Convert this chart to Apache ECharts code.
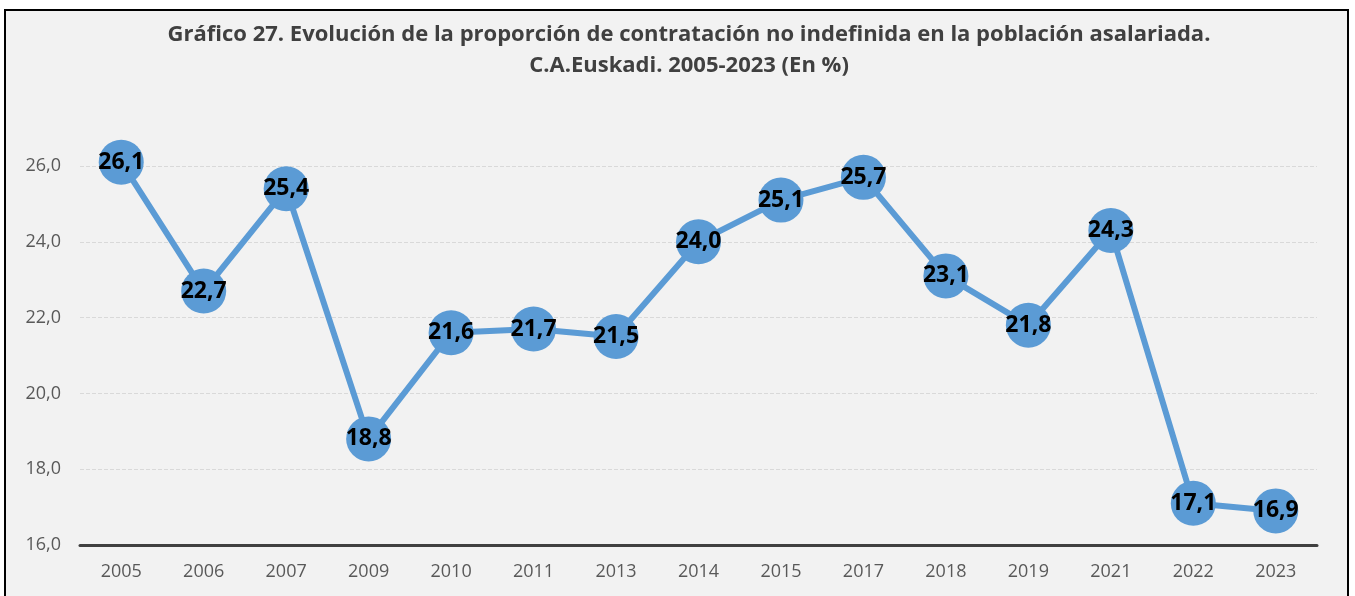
<!DOCTYPE html>
<html>
<head>
<meta charset="utf-8">
<script src="https://cdn.jsdelivr.net/npm/echarts@6/dist/echarts.min.js"></script>
<style>
  html, body { margin: 0; padding: 0; background: #ffffff; }
  #chart-container { width: 1355px; height: 596px; }
</style>
</head>
<body>
<div id="chart-container"></div>
<script>
// datos del gráfico
const years = ['2005', '2006', '2007', '2009', '2010', '2011', '2013', '2014', '2015', '2017', '2018', '2019', '2021', '2022', '2023'];
const values = [26.1, 22.7, 25.4, 18.8, 21.6, 21.7, 21.5, 24.0, 25.1, 25.7, 23.1, 21.8, 24.3, 17.1, 16.9];
const titleLines = [
  'Gráfico 27. Evolución de la proporción de contratación no indefinida en la población asalariada.',
  'C.A.Euskadi. 2005-2023 (En %)'
];

const fmt = v => v.toFixed(1).replace('.', ',');

const chart = echarts.init(document.getElementById('chart-container'));

const option = {
  backgroundColor: '#ffffff',
  animation: false,
  graphic: [{
    type: 'rect',
    z: -10,
    shape: { x: 5, y: 10, width: 1343, height: 600 },
    style: { fill: '#f2f2f2', stroke: '#000000', lineWidth: 2 }
  }],
  title: {
    text: titleLines.join('\n'),
    left: 684,
    top: 14,
    textAlign: 'center',
    textStyle: {
      color: '#404040',
      fontFamily: 'Open Sans',
      fontSize: 22,
      fontWeight: 'bold',
      lineHeight: 31
    }
  },
  grid: {
    left: 80,
    right: 38,
    top: 166,
    bottom: 51
  },
  xAxis: {
    type: 'category',
    data: years,
    boundaryGap: true,
    axisLine: { lineStyle: { color: '#404040', width: 3 } },
    axisTick: { show: false },
    axisLabel: {
      color: '#595959',
      fontFamily: 'Open Sans',
      fontSize: 18,
      margin: 18
    }
  },
  yAxis: {
    type: 'value',
    min: 16,
    max: 26,
    interval: 2,
    axisLine: { show: false },
    axisTick: { show: false },
    axisLabel: {
      color: '#595959',
      fontFamily: 'Open Sans',
      fontSize: 18,
      margin: 19,
      formatter: v => fmt(v)
    },
    splitLine: { lineStyle: { color: '#d9d9d9', type: 'dashed', width: 1 } }
  },
  series: [{
    type: 'line',
    data: values,
    clip: false,
    symbol: 'circle',
    symbolSize: 45,
    lineStyle: { color: '#5b9bd5', width: 6 },
    itemStyle: { color: '#5b9bd5' },
    label: {
      show: true,
      position: 'inside',
      color: '#000000',
      fontFamily: 'Open Sans',
      fontWeight: 'bold',
      fontSize: 23,
      formatter: p => fmt(p.value)
    }
  }]
};

chart.setOption(option);
window.addEventListener('resize', () => chart.resize());
</script>
</body>
</html>
